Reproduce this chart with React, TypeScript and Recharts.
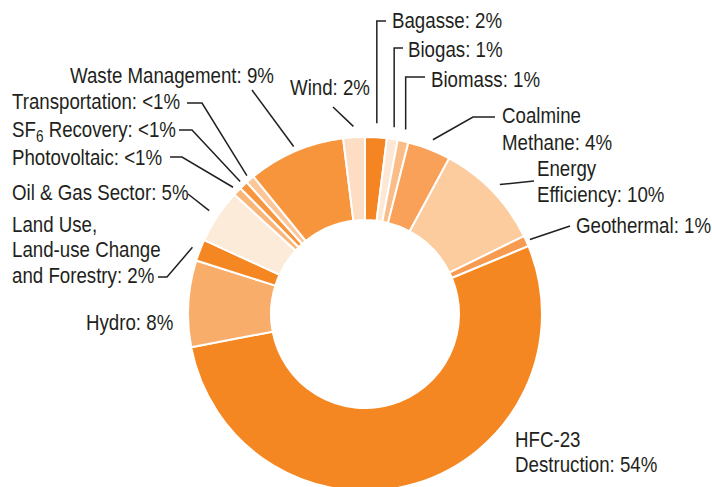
import * as React from "react";
import { PieChart, Pie, Cell } from "recharts";

// project types, clockwise from 12 o'clock
const categories = [
	"Bagasse", "Biogas", "Biomass", "Coalmine Methane", "Energy Efficiency",
	"Geothermal", "HFC-23 Destruction", "Hydro", "Land Use, Land-use Change and Forestry",
	"Oil & Gas Sector", "Photovoltaic", "SF6 Recovery", "Transportation",
	"Waste Management", "Wind",
];
const shares = [2, 1, 1, 4, 10, 1, 54, 8, 2, 5, 0.8, 0.8, 0.8, 9, 2];
const shareLabels = ["2%", "1%", "1%", "4%", "10%", "1%", "54%", "8%", "2%", "5%", "<1%", "<1%", "<1%", "9%", "2%"];

const colors = [
	"#f58423", "#fde8d5", "#fbbd88", "#f9a059", "#fccb9e",
	"#f79b50", "#f58723", "#f9ad6b", "#f58723", "#fdebda",
	"#fab679", "#f7963e", "#fcc698", "#f7953d", "#fdddc3",
];

const data = categories.map((name, i) => ({ name, value: shares[i], pct: shareLabels[i] }));

// no narrow face installed, so squeeze Liberation Sans horizontally
const FONT = "'Liberation Sans', Arial, sans-serif";
const SQUEEZE = 0.85;
const INK = "#231f20";
const RAD = Math.PI / 180;

// where each label sits; line = leader points after the slice anchor
// vert: the first leg runs straight up to that y
type Lay = { lines: string[]; x: number; y: number; lh?: number; gap?: number; vert?: number; line?: number[][] };
const layout: Lay[] = [
	{ lines: ["Bagasse: 2%"], x: 392, y: 28, gap: 14, vert: 21, line: [[386, 21]] },
	{ lines: ["Biogas: 1%"], x: 408, y: 57, gap: 12, vert: 48, line: [[403, 48]] },
	{ lines: ["Biomass: 1%"], x: 431, y: 87, gap: 12, vert: 77, line: [[425, 77]] },
	{ lines: ["Coalmine", "Methane: 4%"], x: 502, y: 123, lh: 27, gap: 10, line: [[473, 117], [495, 117]] },
	{ lines: ["Energy", "Efficiency: 10%"], x: 537, y: 176, lh: 26, gap: 10, line: [[534, 181]] },
	{ lines: ["Geothermal: 1%"], x: 576, y: 233, gap: 4, line: [[570, 226]] },
	{ lines: ["HFC-23", "Destruction: 54%"], x: 515, y: 447, lh: 25 },
	{ lines: ["Hydro: 8%"], x: 86, y: 330 },
	{ lines: ["Land Use,", "Land-use Change", "and Forestry: 2%"], x: 12, y: 232, lh: 25.5, gap: 8, line: [[167, 277], [158, 277]] },
	{ lines: ["Oil & Gas Sector: 5%"], x: 12, y: 200, gap: 10, line: [[188, 194]] },
	{ lines: ["Photovoltaic: <1%"], x: 12, y: 165, gap: 6, line: [[182, 157], [170, 157]] },
	{ lines: ["SF6 Recovery: <1%"], x: 12, y: 137, gap: 5, line: [[192, 130], [179, 130]] },
	{ lines: ["Transportation: <1%"], x: 12, y: 109, gap: 5, line: [[202, 103], [187, 103]] },
	{ lines: ["Waste Management: 9%"], x: 70, y: 83, gap: 5, line: [[252, 90]] },
	{ lines: ["Wind: 2%"], x: 290, y: 95, gap: 11, line: [[333, 107]] },
];

const renderLabel = (props: any) => {
	const { cx, cy, midAngle, outerRadius, index } = props;
	const lay = layout[index];
	const r = outerRadius + (lay.gap ?? 8);
	const sx = cx + r * Math.cos(-midAngle * RAD);
	const sy = cy + r * Math.sin(-midAngle * RAD);
	let path = "";
	if (lay.line) {
		const pts: number[][] = [[sx, sy]];
		if (lay.vert !== undefined) pts.push([sx, lay.vert]);
		lay.line.forEach((p) => pts.push(p));
		path = pts.map((p, i) => (i === 0 ? "M" : "L") + p[0] + "," + p[1]).join(" ");
	}
	return (
		<g key={"lbl" + index}>
			{path && <path d={path} stroke={INK} strokeWidth={1.5} fill="none" />}
			<text
				transform={`translate(${lay.x},${lay.y}) scale(${SQUEEZE},1)`}
				x={0}
				y={0}
				fill={INK}
				fontFamily={FONT}
				fontSize={22}
				textAnchor="start"
			>
				{lay.lines.map((t, i) => {
					const dy = i === 0 ? 0 : lay.lh ?? 26;
					if (t.startsWith("SF6")) {
						return (
							<tspan key={i} x={0} dy={dy}>
								SF<tspan dy={5} fontSize={16}>6</tspan>
								<tspan dy={-5}>{t.slice(3)}</tspan>
							</tspan>
						);
					}
					return (
						<tspan key={i} x={0} dy={dy}>
							{t}
						</tspan>
					);
				})}
			</text>
		</g>
	);
};

export default function App() {
	return (
		<div style={{ position: "absolute", left: 0, top: 0, width: 712, height: 487, background: "#fff" }}>
			<PieChart width={712} height={487} margin={{ top: 0, right: 0, bottom: 0, left: 0 }}>
				<Pie
					data={data}
					dataKey="value"
					nameKey="name"
					cx={365}
					cy={314}
					innerRadius={94}
					outerRadius={177}
					startAngle={90}
					endAngle={-270}
					stroke="#ffffff"
					strokeWidth={2}
					label={renderLabel}
					labelLine={false}
					isAnimationActive={false}
				>
					{data.map((d, i) => (
						<Cell key={d.name} fill={colors[i]} />
					))}
				</Pie>
			</PieChart>
		</div>
	);
}
